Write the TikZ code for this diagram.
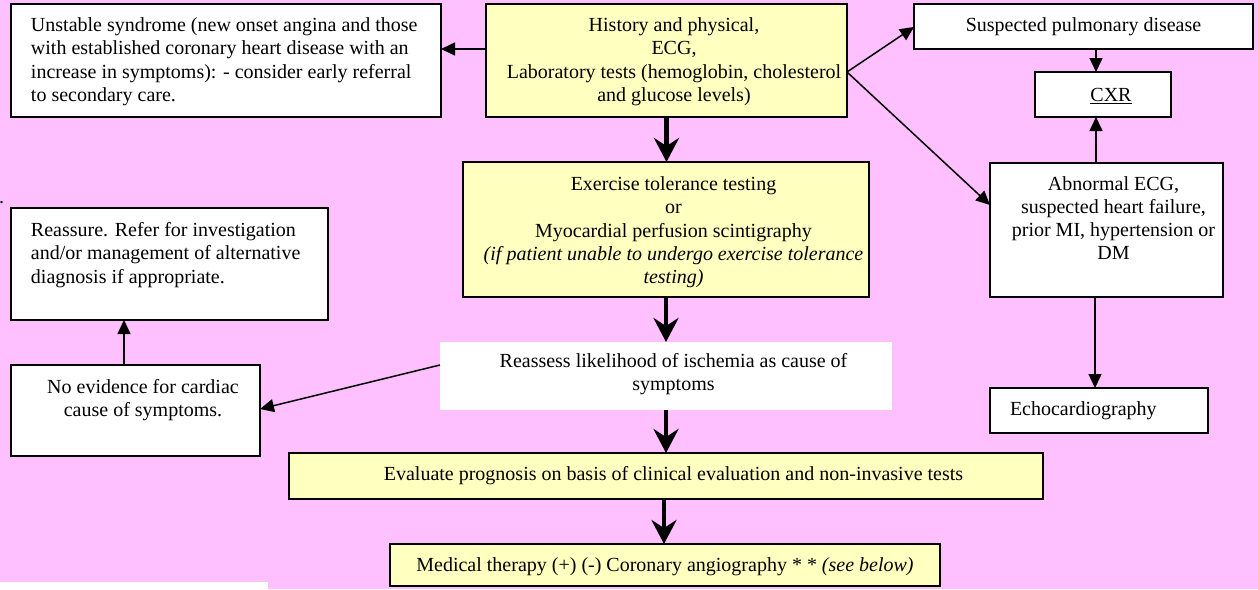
\documentclass[tikz,border=0pt]{standalone}
\usepackage{fontspec}
\setmainfont{LiberationSerif}[Extension=.ttf, UprightFont=*-Regular, ItalicFont=*-Italic, BoldFont=*-Bold, BoldItalicFont=*-BoldItalic]
\usetikzlibrary{arrows.meta,calc}

\definecolor{bgpink}{RGB}{255,192,255}
\definecolor{boxyellow}{RGB}{255,255,192}

\newcommand{\bodyfont}{\fontsize{20}{23.3}\selectfont}
% centred lines, sitting slightly right of the box centre
\newcommand{\shiftcentre}{\centering\leftskip=15pt plus 1fil\relax}
% fixed-size text area: width, height, top padding, content
\newcommand{\boxtext}[4]{\parbox[c][#2][t]{#1}{\vspace*{#3}#4}}

\tikzset{
  box/.style={draw=black, line width=1.5pt, fill=white, inner sep=0pt,
    outer sep=0pt, anchor=north west, font=\bodyfont},
  ybox/.style={box, fill=boxyellow},
  plainbox/.style={box, draw=none},
  thinarrow/.style={line width=1.5pt, -{Triangle[length=14pt,width=13pt]}},
  thickarrow/.style={line width=4.5pt, -{Stealth[length=24pt,width=25pt,inset=8pt]}},
}

\begin{document}
\begin{tikzpicture}[x=1pt, y=-1pt]
  \useasboundingbox (0,0) rectangle (1258,589);
  \fill[bgpink] (0,0) rectangle (1258,589);
  \fill[white] (0,582) rectangle (268,589);
  \node[font=\bodyfont, inner sep=0pt, anchor=base west] (dot) at (-1,203) {.};

  % left column
  \node[box] (unst) at (11,4) {\boxtext{430pt}{113pt}{11.2pt}{\raggedright\leftskip=20pt\relax
    \strut Unstable syndrome (new onset angina and those\\
    with established coronary heart disease with an\\
    increase in symptoms): - consider early referral\\
    to secondary care.}};
  \node[box] (reas) at (11,208) {\boxtext{317pt}{112pt}{12.2pt}{\raggedright\leftskip=20pt\relax
    \strut Reassure. Refer for investigation\\
    and/or management of alternative\\
    diagnosis if appropriate.}};
  \node[box] (noev) at (11,365) {\boxtext{249pt}{91pt}{11.7pt}{\shiftcentre
    \strut No evidence for cardiac\\
    cause of symptoms.}};

  % central column
  \node[ybox] (hist) at (486,4) {\boxtext{361pt}{113pt}{11.2pt}{\shiftcentre
    \strut History and physical,\\
    ECG,\\
    Laboratory tests (hemoglobin, cholesterol\\
    and glucose levels)}};
  \node[ybox] (exer) at (463,162) {\boxtext{406pt}{135pt}{12.2pt}{\shiftcentre
    \strut Exercise tolerance testing\\
    or\\
    Myocardial perfusion scintigraphy\\
    \textit{(if patient unable to undergo exercise tolerance}\\
    \textit{testing)}}};
  \node[plainbox] (reass) at (440,342) {\boxtext{452pt}{68pt}{9.2pt}{\shiftcentre
    \strut Reassess likelihood of ischemia as cause of\\
    symptoms}};
  \node[ybox] (eval) at (289,453) {\boxtext{754pt}{46pt}{11.2pt}{\shiftcentre
    \strut Evaluate prognosis on basis of clinical evaluation and non-invasive tests}};
  \node[ybox] (med) at (390,544) {\boxtext{550pt}{42pt}{11.2pt}{\centering
    \strut Medical therapy (+) (-) Coronary angiography * * \textit{(see below)}}};

  % right column
  \node[box] (susp) at (914,4) {\boxtext{339pt}{45pt}{11.2pt}{\centering
    \strut Suspected pulmonary disease}};
  \node[box] (cxr) at (1035,72) {\boxtext{136pt}{45pt}{13.2pt}{\centering\leftskip=16pt plus 1fil\relax
    \strut\underline{CXR}}};
  \node[box] (abn) at (990,163) {\boxtext{233pt}{134pt}{10.7pt}{\centering\leftskip=14pt plus 1fil\relax
    \strut Abnormal ECG,\\
    suspected heart failure,\\
    prior MI, hypertension or\\
    DM}};
  \node[box] (echo) at (990,388) {\boxtext{218pt}{45pt}{11.2pt}{\raggedright\leftskip=20pt\relax
    \strut Echocardiography}};

  % main pathway
  \draw[thickarrow] (hist.south) -- (hist.south |- exer.north);
  \draw[thickarrow] (exer.south) -- (exer.south |- reass.north);
  \draw[thickarrow] (reass.south) -- (reass.south |- eval.north);
  \draw[thickarrow] ($(eval.south)+(-2,0)$) -- ($(med.north west)+(274,0)$);

  % side branches
  \draw[thinarrow] ($(hist.north west)+(0,45)$) -- ($(unst.north east)+(0,45)$);
  \draw[thinarrow] ($(hist.north east)+(0,68)$) -- ($(susp.north west)+(0,23)$);
  \draw[thinarrow] ($(hist.north east)+(0,68)$) -- ($(abn.north west)+(0,42)$);
  \draw[thinarrow] ($(susp.south west)+(182,0)$) -- ($(cxr.north west)+(61,0)$);
  \draw[thinarrow] ($(abn.north west)+(106,0)$) -- ($(cxr.south west)+(61,0)$);
  \draw[thinarrow] ($(abn.south west)+(105,0)$) -- ($(echo.north west)+(105,0)$);
  \draw[thinarrow] ($(noev.north west)+(113,0)$) -- ($(reas.south west)+(113,0)$);
  \draw[thinarrow] ($(reass.north west)+(0,23)$) -- ($(noev.north east)+(0,44)$);
\end{tikzpicture}
\end{document}
